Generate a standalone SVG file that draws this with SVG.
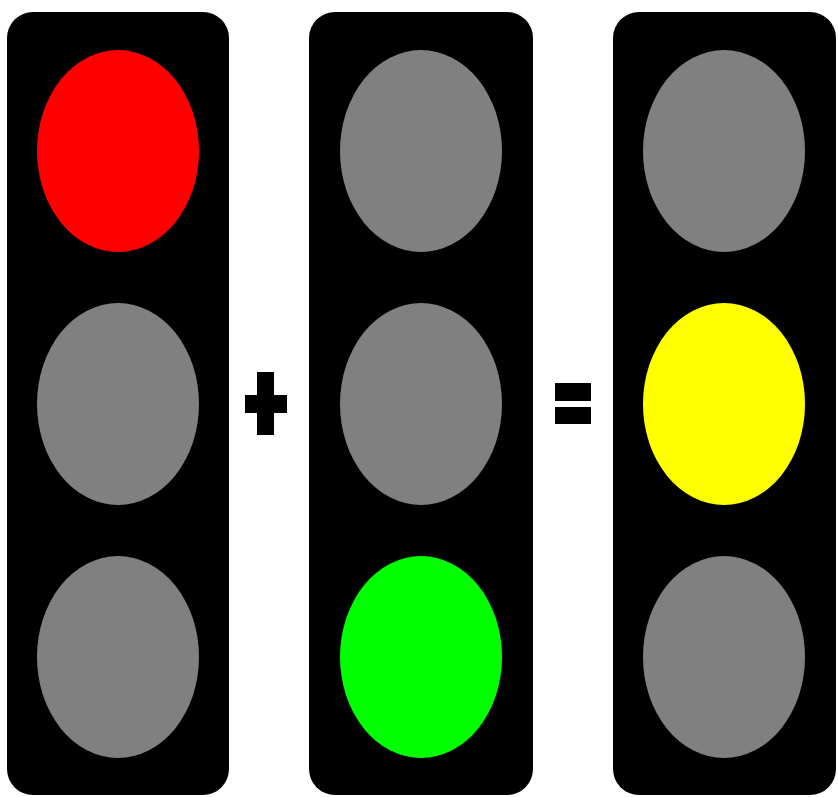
<svg xmlns="http://www.w3.org/2000/svg" width="838" height="797" viewBox="0 0 838 797">
<style>
.housing{fill:#000}
.off{fill:#808080}
.sym{fill:#000}
</style>
<rect width="838" height="797" fill="#fff"/>
<g id="light1">
<rect class="housing" x="7" y="12" width="222" height="783" rx="26"/>
<ellipse cx="118" cy="151" rx="81" ry="101" fill="#ff0000"/>
<ellipse class="off" cx="118" cy="404" rx="81" ry="101"/>
<ellipse class="off" cx="118" cy="657" rx="81" ry="101"/>
</g>
<g id="plus">
<rect class="sym" x="257" y="372" width="17" height="63"/>
<rect class="sym" x="245" y="395" width="42" height="18"/>
</g>
<g id="light2">
<rect class="housing" x="309" y="12" width="224" height="783" rx="26"/>
<ellipse class="off" cx="421" cy="151" rx="81" ry="101"/>
<ellipse class="off" cx="421" cy="404" rx="81" ry="101"/>
<ellipse cx="421" cy="657" rx="81" ry="101" fill="#00ff00"/>
</g>
<g id="equals">
<rect class="sym" x="555" y="383" width="36" height="18"/>
<rect class="sym" x="555" y="407" width="36" height="17"/>
</g>
<g id="light3">
<rect class="housing" x="613" y="12" width="223" height="783" rx="26"/>
<ellipse class="off" cx="724" cy="151" rx="81" ry="101"/>
<ellipse cx="724" cy="404" rx="81" ry="101" fill="#ffff00"/>
<ellipse class="off" cx="724" cy="657" rx="81" ry="101"/>
</g>
<g id="connectors"/>
</svg>
